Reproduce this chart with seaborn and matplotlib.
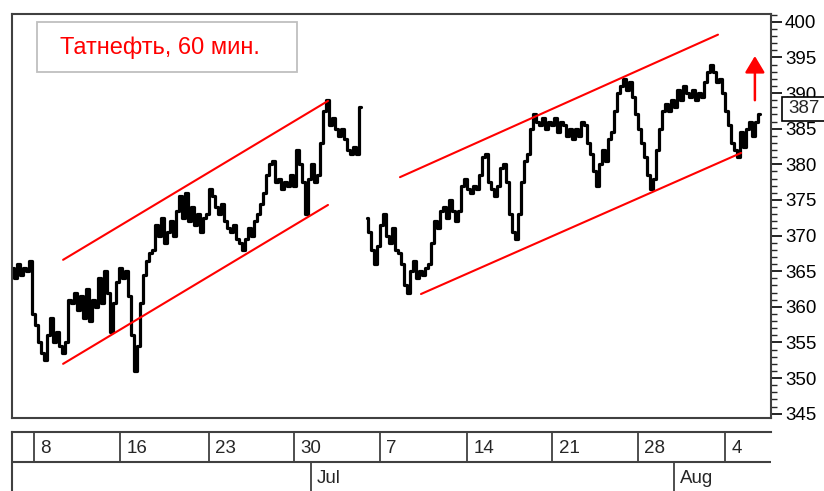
import matplotlib
matplotlib.use("Agg")
import matplotlib.pyplot as plt
import matplotlib.transforms as mtransforms
from matplotlib.patches import Rectangle
from matplotlib.ticker import MultipleLocator
import pandas as pd
import seaborn as sns

# hourly closes, before the gap (June)
price_jun = [365.5, 364.0, 366.0, 364.5, 365.5, 365.0, 366.5, 359.0, 357.5, 355.0,
             353.5, 352.5, 356.0, 358.5, 355.0, 356.5, 354.5, 353.5, 355.0, 361.0,
             360.5, 362.0, 359.5, 361.5, 358.5, 362.5, 358.0, 361.0, 360.0, 364.0,
             360.5, 365.0, 362.0, 356.5, 360.5, 363.5, 365.5, 364.0, 365.0, 361.5,
             356.0, 351.0, 354.5, 360.5, 364.5, 366.5, 367.5, 368.0, 371.5, 370.0,
             372.5, 369.0, 370.5, 372.0, 370.0, 373.5, 375.5, 372.5, 376.0, 372.0,
             374.0, 371.5, 373.0, 370.5, 372.5, 373.0, 376.5, 375.5, 374.0, 373.0,
             374.5, 372.0, 371.0, 370.5, 371.5, 369.5, 369.0, 368.0, 369.5, 371.0,
             370.0, 372.0, 373.0, 374.5, 376.0, 378.5, 380.0, 380.5, 377.5, 378.0,
             376.5, 377.5, 377.0, 378.5, 377.0, 382.0, 380.0, 377.5, 373.0, 378.0,
             380.0, 377.5, 378.5, 383.0, 387.5, 389.0, 385.5, 386.5, 385.0, 384.0,
             385.0, 383.5, 382.0, 381.5, 382.5, 381.5, 388.0]

# after the gap (July - August)
price_jul = [372.5, 370.5, 368.0, 366.0, 368.5, 371.5, 373.0, 370.0, 369.0, 371.0,
             368.0, 367.5, 366.0, 363.0, 362.0, 365.0, 366.5, 364.0, 365.0, 364.5,
             365.5, 366.0, 369.0, 372.0, 371.0, 373.5, 374.0, 372.5, 375.0, 373.5,
             372.0, 373.5, 377.0, 378.0, 376.5, 376.0, 377.0, 376.5, 378.5, 381.0,
             381.5, 377.5, 376.5, 375.5, 377.0, 379.5, 380.0, 377.5, 373.0, 370.5,
             369.5, 373.0, 377.5, 380.5, 381.5, 385.0, 387.0, 386.0, 385.5, 386.5,
             385.0, 386.0, 385.5, 386.5, 384.5, 386.0, 385.5, 384.0, 385.0, 383.5,
             385.0, 384.0, 386.0, 385.5, 383.0, 381.5, 379.0, 377.0, 380.0, 382.0,
             380.5, 383.5, 384.5, 387.5, 390.0, 391.0, 392.0, 390.5, 391.5, 389.5,
             387.0, 385.0, 383.0, 381.0, 378.5, 376.5, 378.0, 382.0, 385.0, 387.5,
             388.5, 387.5, 389.0, 388.0, 390.5, 389.0, 391.0, 390.0, 389.5, 390.5,
             389.0, 390.0, 389.5, 391.5, 393.0, 394.0, 393.0, 391.5, 392.0, 390.0,
             387.5, 385.5, 383.0, 382.0, 381.0, 384.5, 382.5, 385.0, 386.0, 384.0,
             386.0, 387.0]

title = "Татнефть, 60 мин."
last_price = 387

day_labels = ["8", "16", "23", "30", "7", "14", "21", "28", "4"]
day_pos = [7.0, 35.7, 65.3, 93.7, 122.3, 151.3, 179.7, 208.3, 237.3]
month_labels = ["Jul", "Aug"]
month_pos = [99.3, 220.3]

# trend channels: bar index and price at both ends
chan_left_upper = ([16.7, 105.0], [366.6, 388.9])
chan_left_lower = ([16.7, 105.0], [352.0, 374.3])
chan_right_upper = ([129.0, 235.0], [378.2, 398.2])
chan_right_lower = ([136.0, 242.7], [361.8, 381.6])
arrow_x = 247.3
arrow_from, arrow_to = 389.0, 395.2

gap = len(price_jun) + 1
df = pd.DataFrame({
    "bar": list(range(len(price_jun))) + list(range(gap, gap + len(price_jul))),
    "price": price_jun + price_jul,
    "segment": ["a"] * len(price_jun) + ["b"] * len(price_jul),
})

sns.set_style("white")
plt.rcParams["font.family"] = ["Liberation Sans", "DejaVu Sans"]

W, H = 824, 491
fig = plt.figure(figsize=(W / 100, H / 100), dpi=100)
ax = fig.add_axes([12 / W, 1 - 418 / H, 759 / W, 404 / H])
ax2 = fig.add_axes([12 / W, 0, 759 / W, 59 / H])

xlim = (-0.33, 252.67)

sns.lineplot(data=df, x="bar", y="price", units="segment", estimator=None,
             color="black", linewidth=2.3, drawstyle="steps-mid", ax=ax, legend=False)

for cx, cy in [chan_left_upper, chan_left_lower, chan_right_upper, chan_right_lower]:
    ax.plot(cx, cy, color="red", linewidth=1.5)

ax.annotate("", xy=(arrow_x, arrow_to), xytext=(arrow_x, arrow_from),
            arrowprops=dict(arrowstyle="-|>,head_length=0.5,head_width=0.3",
                            mutation_scale=20, color="red", lw=1.8,
                            shrinkA=0, shrinkB=0))

ax.set_xlim(*xlim)
ax.set_ylim(344.4, 401.1)
ax.set_xticks([])
ax.set_xlabel("")
ax.set_ylabel("")
ax.yaxis.tick_right()
ax.yaxis.set_major_locator(MultipleLocator(5))
ax.yaxis.set_minor_locator(MultipleLocator(1))
ax.tick_params(axis="y", which="major", length=8, width=1.2, pad=2,
               labelsize=13.5, colors="black", right=True, left=False)
ax.tick_params(axis="y", which="minor", length=4, width=1.0, right=True, left=False)
for s in ax.spines.values():
    s.set_color("#404040")
    s.set_linewidth(1.5)

# title box
ax.add_patch(Rectangle((0.033, 0.856), 0.343, 0.124, transform=ax.transAxes,
                       facecolor="white", edgecolor="#bfbfbf", linewidth=1.3, zorder=4))
ax.text(0.195, 0.916, title, transform=ax.transAxes, color="red", fontsize=17,
        ha="center", va="center", zorder=5)

# last price marker
trans = mtransforms.blended_transform_factory(ax.transAxes, ax.transData)
ax.add_patch(Rectangle((1.0145, last_price - 0.9), 0.08, 3.4, transform=trans,
                       facecolor="white", edgecolor="black", linewidth=1.2,
                       clip_on=False, zorder=6))
ax.text(1.0225, last_price + 0.8, str(last_price), transform=trans, fontsize=13.5,
        ha="left", va="center", clip_on=False, zorder=7)

# date strip
ax2.set_xlim(*xlim)
ax2.set_ylim(0, 1)
ax2.set_xticks([])
ax2.set_yticks([])
for side in ["right", "bottom"]:
    ax2.spines[side].set_visible(False)
for side in ["top", "left"]:
    ax2.spines[side].set_color("#404040")
    ax2.spines[side].set_linewidth(1.5)
ax2.axhline(0.49, color="#404040", linewidth=1.5)
ax2.vlines(day_pos, 0.49, 1, color="#404040", linewidth=1.3)
ax2.vlines(month_pos, 0, 0.49, color="#404040", linewidth=1.3)
for p, lab in zip(day_pos, day_labels):
    ax2.text(p + 2.2, 0.72, lab, fontsize=13.5, ha="left", va="center")
for p, lab in zip(month_pos, month_labels):
    ax2.text(p + 2.0, 0.22, lab, fontsize=13.5, ha="left", va="center")

fig.savefig("out.png", dpi=100)
